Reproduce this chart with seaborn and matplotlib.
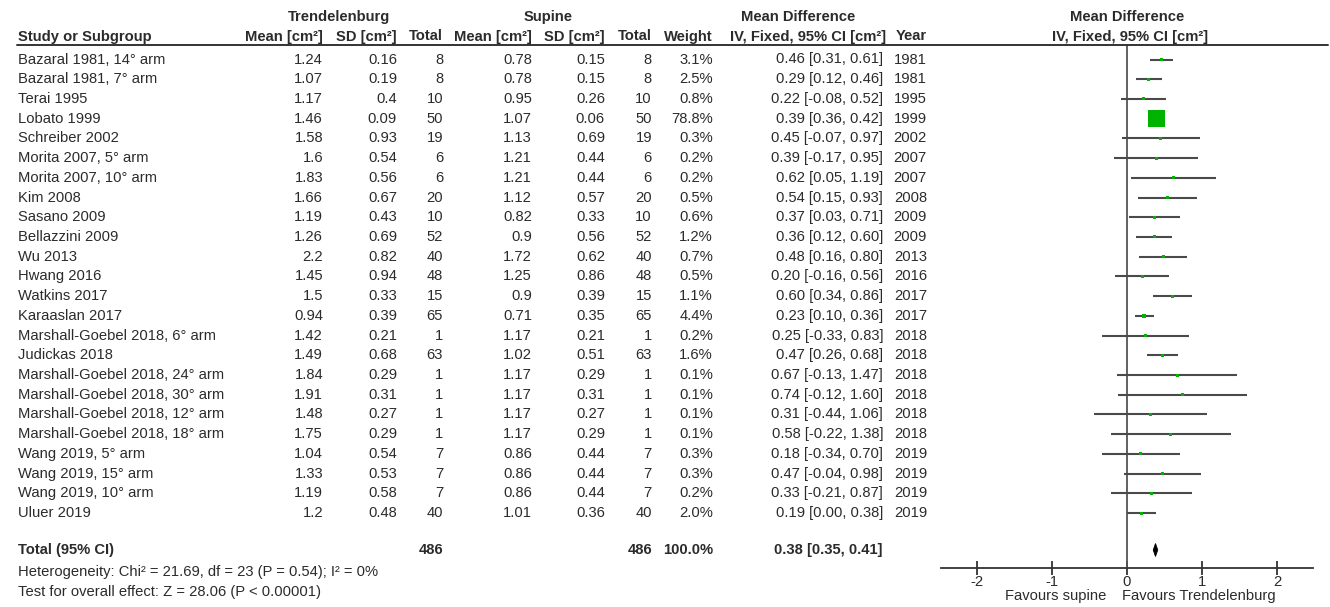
import numpy as np
import pandas as pd
import matplotlib
matplotlib.use("Agg")
import matplotlib.pyplot as plt
from matplotlib.lines import Line2D
from matplotlib.patches import Polygon
import seaborn as sns

# ---- study data -------------------------------------------------------------
studies = [
    "Bazaral 1981, 14° arm", "Bazaral 1981, 7° arm", "Terai 1995", "Lobato 1999",
    "Schreiber 2002", "Morita 2007, 5° arm", "Morita 2007, 10° arm", "Kim 2008",
    "Sasano 2009", "Bellazzini 2009", "Wu 2013", "Hwang 2016", "Watkins 2017",
    "Karaaslan 2017", "Marshall-Goebel 2018, 6° arm", "Judickas 2018",
    "Marshall-Goebel 2018, 24° arm", "Marshall-Goebel 2018, 30° arm",
    "Marshall-Goebel 2018, 12° arm", "Marshall-Goebel 2018, 18° arm",
    "Wang 2019, 5° arm", "Wang 2019, 15° arm", "Wang 2019, 10° arm", "Uluer 2019",
]
trend_mean = [1.24, 1.07, 1.17, 1.46, 1.58, 1.6, 1.83, 1.66, 1.19, 1.26, 2.2, 1.45,
              1.5, 0.94, 1.42, 1.49, 1.84, 1.91, 1.48, 1.75, 1.04, 1.33, 1.19, 1.2]
trend_sd = [0.16, 0.19, 0.4, 0.09, 0.93, 0.54, 0.56, 0.67, 0.43, 0.69, 0.82, 0.94,
            0.33, 0.39, 0.21, 0.68, 0.29, 0.31, 0.27, 0.29, 0.54, 0.53, 0.58, 0.48]
trend_n = [8, 8, 10, 50, 19, 6, 6, 20, 10, 52, 40, 48, 15, 65, 1, 63, 1, 1, 1, 1,
           7, 7, 7, 40]
sup_mean = [0.78, 0.78, 0.95, 1.07, 1.13, 1.21, 1.21, 1.12, 0.82, 0.9, 1.72, 1.25,
            0.9, 0.71, 1.17, 1.02, 1.17, 1.17, 1.17, 1.17, 0.86, 0.86, 0.86, 1.01]
sup_sd = [0.15, 0.15, 0.26, 0.06, 0.69, 0.44, 0.44, 0.57, 0.33, 0.56, 0.62, 0.86,
          0.39, 0.35, 0.21, 0.51, 0.29, 0.31, 0.27, 0.29, 0.44, 0.44, 0.44, 0.36]
sup_n = trend_n
weight = [3.1, 2.5, 0.8, 78.8, 0.3, 0.2, 0.2, 0.5, 0.6, 1.2, 0.7, 0.5, 1.1, 4.4,
          0.2, 1.6, 0.1, 0.1, 0.1, 0.1, 0.3, 0.3, 0.2, 2.0]
md = [0.46, 0.29, 0.22, 0.39, 0.45, 0.39, 0.62, 0.54, 0.37, 0.36, 0.48, 0.20, 0.60,
      0.23, 0.25, 0.47, 0.67, 0.74, 0.31, 0.58, 0.18, 0.47, 0.33, 0.19]
ci_low = [0.31, 0.12, -0.08, 0.36, -0.07, -0.17, 0.05, 0.15, 0.03, 0.12, 0.16, -0.16,
          0.34, 0.10, -0.33, 0.26, -0.13, -0.12, -0.44, -0.22, -0.34, -0.04, -0.21, 0.00]
ci_high = [0.61, 0.46, 0.52, 0.42, 0.97, 0.95, 1.19, 0.93, 0.71, 0.60, 0.80, 0.56,
           0.86, 0.36, 0.83, 0.68, 1.47, 1.60, 1.06, 1.38, 0.70, 0.98, 0.87, 0.38]
year = [1981, 1981, 1995, 1999, 2002, 2007, 2007, 2008, 2009, 2009, 2013, 2016, 2017,
        2017, 2018, 2018, 2018, 2018, 2018, 2018, 2019, 2019, 2019, 2019]

total_n_trend = 486
total_n_sup = 486
total_weight = 100.0
total_md, total_low, total_high = 0.38, 0.35, 0.41
heterogeneity = "Heterogeneity: Chi² = 21.69, df = 23 (P = 0.54); I² = 0%"
overall = "Test for overall effect: Z = 28.06 (P < 0.00001)"
x_ticks = [-2, -1, 0, 1, 2]

df = pd.DataFrame({
    "study": studies, "md": md, "lo": ci_low, "hi": ci_high, "w": weight,
})
df["row"] = np.arange(len(df))

# ---- figure & layout --------------------------------------------------------
W, H = 1330, 607
sns.set_theme(style="white")
plt.rcParams["font.family"] = ["Liberation Sans", "DejaVu Sans"]
TXT = "#2b2b2b"
FS = 10.6

fig = plt.figure(figsize=(W / 100, H / 100), dpi=100)
fig.patch.set_facecolor("white")

ROW0, DY = 59.5, 19.72


def row_y(i):
    return ROW0 + DY * i


def put(x, y, s, ha="left", bold=False, size=FS):
    fig.text(x / W, 1 - y / H, s, ha=ha, va="center", fontsize=size, color=TXT,
             fontweight="bold" if bold else "normal")


# header
put(339, 17, "Trendelenburg", ha="center", bold=True)
put(548, 17, "Supine", ha="center", bold=True)
put(798, 17, "Mean Difference", ha="center", bold=True)
put(1127, 17, "Mean Difference", ha="center", bold=True)
hy = 36.5
put(18, hy, "Study or Subgroup", bold=True)
put(323, hy, "Mean [cm²]", ha="right", bold=True)
put(397, hy, "SD [cm²]", ha="right", bold=True)
put(443, hy, "Total", ha="right", bold=True)
put(532, hy, "Mean [cm²]", ha="right", bold=True)
put(605, hy, "SD [cm²]", ha="right", bold=True)
put(652, hy, "Total", ha="right", bold=True)
put(713, hy, "Weight", ha="right", bold=True)
put(886, hy, "IV, Fixed, 95% CI [cm²]", ha="right", bold=True)
put(927, hy, "Year", ha="right", bold=True)
put(1130, hy, "IV, Fixed, 95% CI [cm²]", ha="center", bold=True)

fig.add_artist(Line2D([17 / W, 1328 / W], [1 - 45 / H, 1 - 45 / H],
                      color="#333333", lw=1.4, transform=fig.transFigure))

# body rows
for i in range(len(studies)):
    y = row_y(i)
    put(18, y, studies[i])
    put(323, y, str(trend_mean[i]), ha="right")
    put(397, y, str(trend_sd[i]), ha="right")
    put(443, y, str(trend_n[i]), ha="right")
    put(532, y, str(sup_mean[i]), ha="right")
    put(605, y, str(sup_sd[i]), ha="right")
    put(652, y, str(sup_n[i]), ha="right")
    put(713, y, f"{weight[i]:.1f}%", ha="right")
    put(883, y, f"{md[i]:.2f} [{ci_low[i]:.2f}, {ci_high[i]:.2f}]", ha="right")
    put(927, y, str(year[i]), ha="right")

# totals
ty = 550
put(18, ty, "Total (95% CI)", bold=True)
put(443, ty, str(total_n_trend), ha="right", bold=True)
put(652, ty, str(total_n_sup), ha="right", bold=True)
put(713, ty, f"{total_weight:.1f}%", ha="right", bold=True)
put(883, ty, f"{total_md:.2f} [{total_low:.2f}, {total_high:.2f}]", ha="right", bold=True)
put(18, 572, heterogeneity)
put(18, 592, overall)

# ---- forest panel -----------------------------------------------------------
ax_l, ax_r, ax_t, ax_b = 941, 1313, 45, 568
ax = fig.add_axes([ax_l / W, 1 - ax_b / H, (ax_r - ax_l) / W, (ax_b - ax_t) / H])
ax.set_xlim(-2.48, 2.48)
ax.set_ylim((ax_b - ROW0) / DY, (ax_t - ROW0) / DY)
ax.patch.set_alpha(0)

ax.axvline(0, color="#555555", lw=1.3, zorder=1)
ax.hlines(df["row"], df["lo"], df["hi"], color="#4a4a4a", lw=1.5, zorder=2)

side_px = np.maximum(3.0, 17.0 * np.sqrt(df["w"] / df["w"].max()))
sns.scatterplot(data=df, x="md", y="row", marker="s", color="#00b300",
                s=(side_px * 0.72) ** 2, linewidth=0, ax=ax, zorder=3,
                legend=False)

ty_d = (ty - ROW0) / DY
half_h = 6.5 / DY
diamond = Polygon([[total_low, ty_d], [total_md, ty_d - half_h],
                   [total_high, ty_d], [total_md, ty_d + half_h]],
                  closed=True, facecolor="black", edgecolor="black", lw=0.6, zorder=3)
ax.add_patch(diamond)

for side in ("top", "left", "right"):
    ax.spines[side].set_visible(False)
ax.spines["bottom"].set_color("#333333")
ax.spines["bottom"].set_linewidth(1.3)
ax.set_xticks(x_ticks)
ax.set_xticklabels([str(t) for t in x_ticks])
ax.set_yticks([])
ax.set_xlabel("")
ax.set_ylabel("")
ax.tick_params(axis="x", direction="inout", length=10, width=1.3, color="#333333",
               labelsize=FS, labelcolor=TXT, pad=0, bottom=True)

put(1106, 596, "Favours supine", ha="right")
put(1122, 596, "Favours Trendelenburg", ha="left")

fig.savefig("out.png", dpi=100, facecolor="white")
